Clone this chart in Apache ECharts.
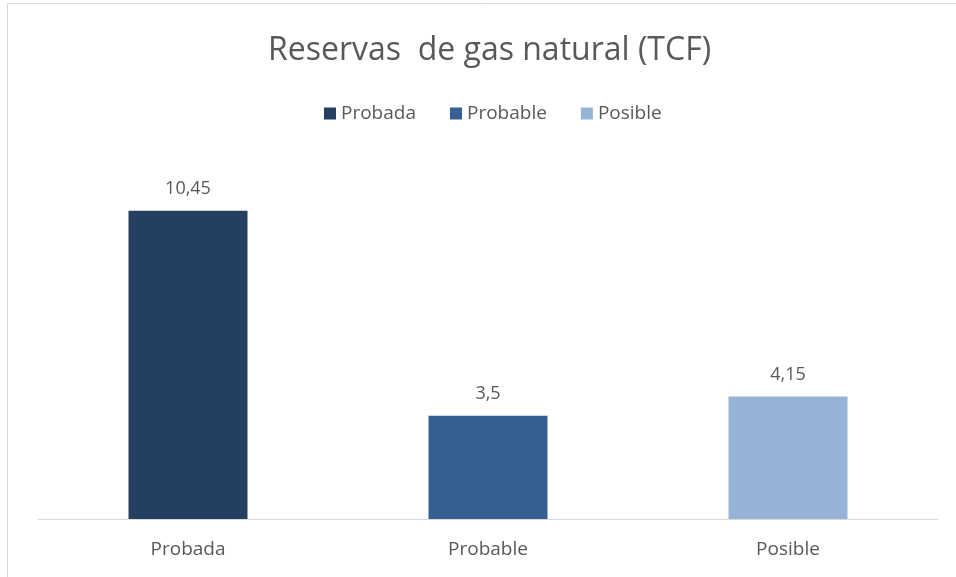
<!DOCTYPE html>
<html>
<head>
<meta charset="utf-8">
<script src="https://cdn.jsdelivr.net/npm/echarts@6/dist/echarts.min.js"></script>
<style>
html,body{margin:0;padding:0;background:#fff;}
#main{width:956px;height:577px;}
</style>
</head>
<body>
<div id="main"></div>
<script>
var categories = ['Probada', 'Probable', 'Posible'];
var seriesNames = ['Probada', 'Probable', 'Posible'];
var values = [10.45, 3.5, 4.15];
var colors = ['#243F60', '#366092', '#95B3D7'];

var chart = echarts.init(document.getElementById('main'));
var FONT = '"Open Sans", "Noto Sans", sans-serif';

var series = seriesNames.map(function (name, i) {
  var d = categories.map(function (c, j) { return j === i ? values[i] : '-'; });
  return {
    name: name,
    type: 'bar',
    stack: 'all',
    barWidth: 119,
    data: d,
    itemStyle: { color: colors[i] },
    label: {
      show: true,
      position: 'top',
      distance: 13,
      color: '#595959',
      fontSize: 18,
      fontFamily: FONT,
      formatter: function (p) { return String(p.value).replace('.', ','); }
    }
  };
});

chart.setOption({
  backgroundColor: '#fff',
  animation: false,
  title: {
    text: 'Reservas  de gas natural (TCF)',
    left: 263,
    top: 30,
    textStyle: { color: '#595959', fontSize: 32, fontWeight: 'normal', fontFamily: FONT }
  },
  legend: {
    data: seriesNames,
    top: 99,
    left: 319,
    icon: 'rect',
    itemWidth: 12,
    itemHeight: 12,
    itemGap: 34,
    textStyle: { color: '#595959', fontSize: 19, fontFamily: FONT }
  },
  grid: { left: 38, right: 18, top: 165, bottom: 58 },
  xAxis: {
    type: 'category',
    data: categories,
    axisLine: { lineStyle: { color: '#d9d9d9', width: 1 } },
    axisTick: { show: false },
    axisLabel: { color: '#595959', fontSize: 19, fontFamily: FONT, margin: 21 }
  },
  yAxis: {
    type: 'value',
    min: 0,
    max: 12,
    show: false,
    splitLine: { show: false }
  },
  graphic: [{
    type: 'rect',
    shape: { x: 7.5, y: 3.5, width: 1000, height: 1000 },
    style: { fill: 'none', stroke: '#d9d9d9', lineWidth: 1 },
    silent: true
  }],
  series: series
});
</script>
</body>
</html>
